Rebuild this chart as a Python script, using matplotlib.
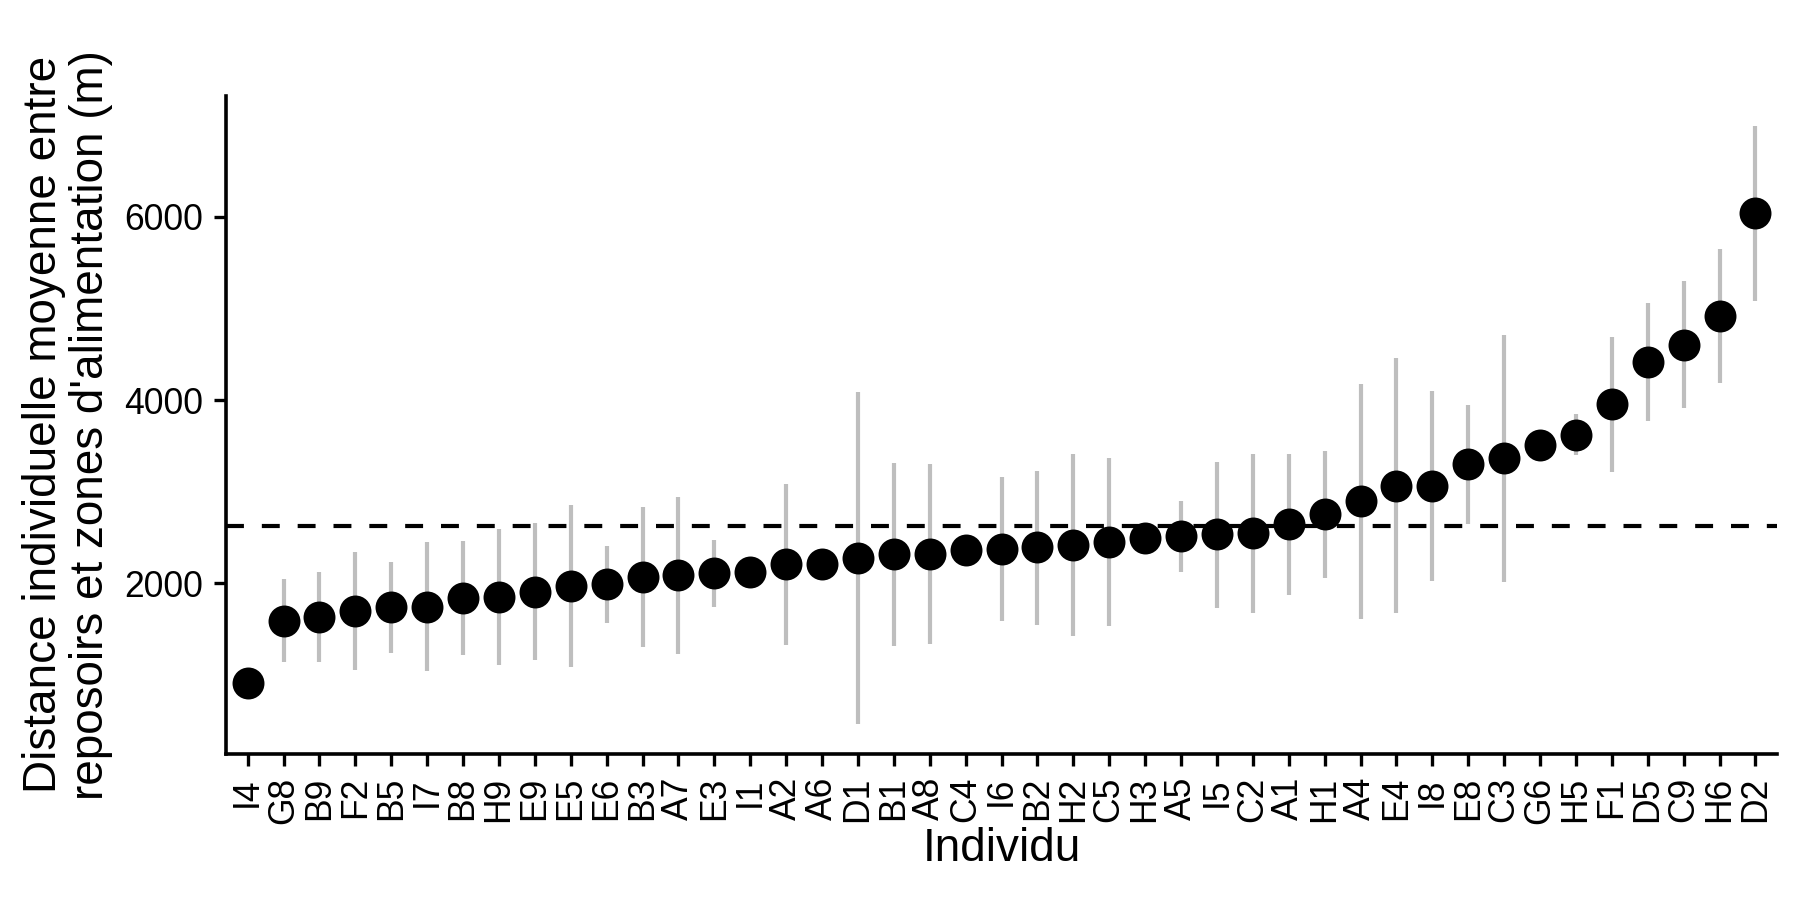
"""Distance individuelle moyenne entre reposoirs et zones d'alimentation."""

import numpy as np
import matplotlib
matplotlib.use("Agg")
import matplotlib.pyplot as plt

individus = ["I4", "G8", "B9", "F2", "B5", "I7", "B8", "H9", "E9", "E5",
             "E6", "B3", "A7", "E3", "I1", "A2", "A6", "D1", "B1", "A8",
             "C4", "I6", "B2", "H2", "C5", "H3", "A5", "I5", "C2", "A1",
             "H1", "A4", "E4", "I8", "E8", "C3", "G6", "H5", "F1", "D5",
             "C9", "H6", "D2"]
moyenne = [915, 1596, 1635, 1698, 1742, 1747, 1844, 1854, 1912, 1976,
           1995, 2073, 2092, 2112, 2127, 2209, 2210, 2282, 2316, 2326,
           2365, 2380, 2394, 2423, 2457, 2491, 2516, 2535, 2555, 2647,
           2754, 2895, 3066, 3066, 3304, 3363, 3509, 3620, 3961, 4414,
           4599, 4920, 6039]
# NaN = no error bar (single value)
borne_inf = [np.nan, 1139, 1148, 1061, 1246, 1041, 1221, 1111, 1168, 1085,
             1572, 1309, 1236, 1742, np.nan, 1333, np.nan, 467, 1319, 1343,
             np.nan, 1586, 1543, 1426, 1538, np.nan, 2127, 1732, 1679, 1878,
             2063, 1616, 1674, 2024, 2652, 2015, np.nan, 3397, 3217, 3766,
             3908, 4190, 5075]
borne_sup = [np.nan, 2049, 2122, 2341, 2229, 2453, 2462, 2599, 2657, 2861,
             2414, 2837, 2939, 2472, np.nan, 3080, np.nan, 4092, 3314, 3304,
             np.nan, 3158, 3231, 3411, 3372, np.nan, 2900, 3328, 3411, 3411,
             3445, 4170, 4453, 4102, 3951, 4711, np.nan, 3849, 4691, 5056,
             5294, 5650, 6993]

moyenne = np.array(moyenne, dtype=float)
borne_inf = np.array(borne_inf, dtype=float)
borne_sup = np.array(borne_sup, dtype=float)
x = np.arange(len(individus))

plt.rcParams["font.family"] = ["Liberation Sans", "DejaVu Sans"]
fig = plt.figure(figsize=(9, 4.5), dpi=200)
ax = fig.add_axes([0.1256, 0.1622, 0.8616, 0.7316])

ok = ~np.isnan(borne_inf)
ax.vlines(x[ok], borne_inf[ok], borne_sup[ok], color="#bebebe", lw=1.5, zorder=1)
ax.axhline(moyenne.mean(), color="black", lw=1.5, dashes=(4.3, 4.3), zorder=2)
ax.plot(x, moyenne, "o", color="black", ms=11.5, mew=0, zorder=3)

lo = np.nanmin(np.concatenate([borne_inf, moyenne]))
hi = np.nanmax(np.concatenate([borne_sup, moyenne]))
pad = 0.05 * (hi - lo)
ax.set_ylim(lo - pad, hi + pad)
ax.set_xlim(-0.6, len(individus) - 0.4)

ax.set_yticks([2000, 4000, 6000])
ax.set_xticks(x)
ax.set_xticklabels(individus, rotation=90)
ax.tick_params(labelsize=12.8, colors="black", length=4.3, width=1.2, pad=4)

for side in ["top", "right"]:
    ax.spines[side].set_visible(False)
for side in ["left", "bottom"]:
    ax.spines[side].set_linewidth(1.3)

ax.set_xlabel("Individu", fontsize=16.5, labelpad=1)
ax.set_ylabel("Distance individuelle moyenne entre\nreposoirs et zones d'alimentation (m)",
              fontsize=16.5, labelpad=4, linespacing=1.1)

fig.savefig("out.png", dpi=200)
